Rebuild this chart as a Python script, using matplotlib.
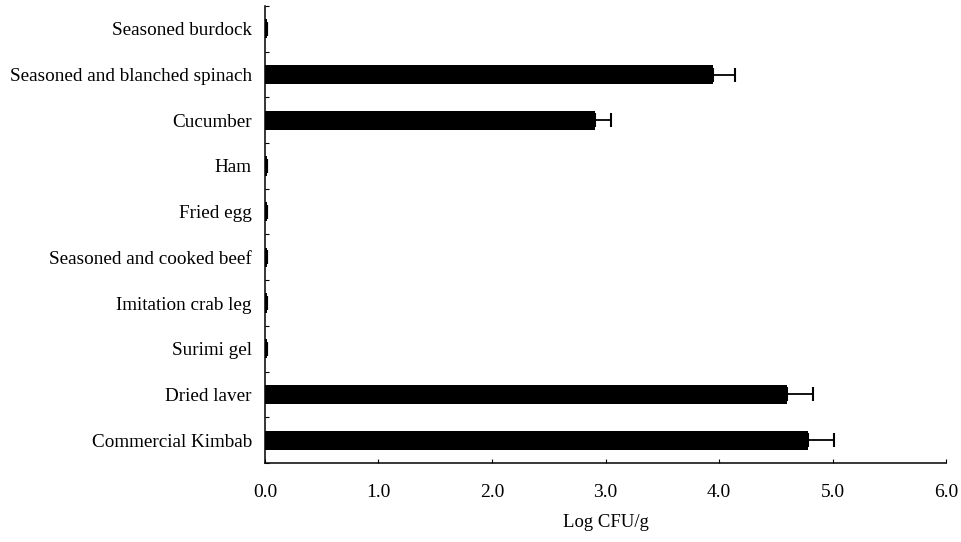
import numpy as np
import matplotlib.pyplot as plt

categories = ['Commercial Kimbab', 'Dried laver', 'Surimi gel', 'Imitation crab leg',
              'Seasoned and cooked beef', 'Fried egg', 'Ham', 'Cucumber',
              'Seasoned and blanched spinach', 'Seasoned burdock']
log_cfu = [4.78, 4.60, 0.02, 0.02, 0.02, 0.02, 0.02, 2.91, 3.95, 0.02]
err = [0.23, 0.23, 0, 0, 0, 0, 0, 0.14, 0.19, 0]
xticks = [0.0, 1.0, 2.0, 3.0, 4.0, 5.0, 6.0]

plt.rcParams['font.family'] = ['Liberation Serif', 'DejaVu Serif']

fig = plt.figure(figsize=(9.62, 5.42), dpi=100)
ax = fig.add_axes([265 / 962, (542 - 463) / 542, (946 - 265) / 962, (463 - 6) / 542])

y = np.arange(len(categories))
ax.barh(y, log_cfu, height=0.42, color='black')
ax.errorbar(log_cfu, y, xerr=[np.zeros(len(err)), err], fmt='none',
            ecolor='black', elinewidth=1.3, capsize=5, capthick=1.5)

ax.set_xlim(0, 6)
ax.set_ylim(-0.5, len(categories) - 0.5)
ax.set_xticks(xticks)
ax.set_xticklabels([f'{t:.1f}' for t in xticks], fontsize=14)
ax.set_yticks(y)
ax.set_yticklabels(categories, fontsize=13.8)
ax.set_yticks(np.arange(-0.5, len(categories), 1.0), minor=True)
ax.tick_params(axis='y', which='major', length=0, pad=9.5)
ax.tick_params(axis='y', which='minor', direction='in', length=3, width=0.8)
ax.tick_params(axis='x', which='major', direction='in', length=3, width=0.8, pad=15)

for s in ['top', 'right']:
    ax.spines[s].set_visible(False)
for s in ['left', 'bottom']:
    ax.spines[s].set_linewidth(1.1)

ax.set_xlabel('Log CFU/g', fontsize=13.5, labelpad=9.5)

fig.savefig('out.png', dpi=100)
